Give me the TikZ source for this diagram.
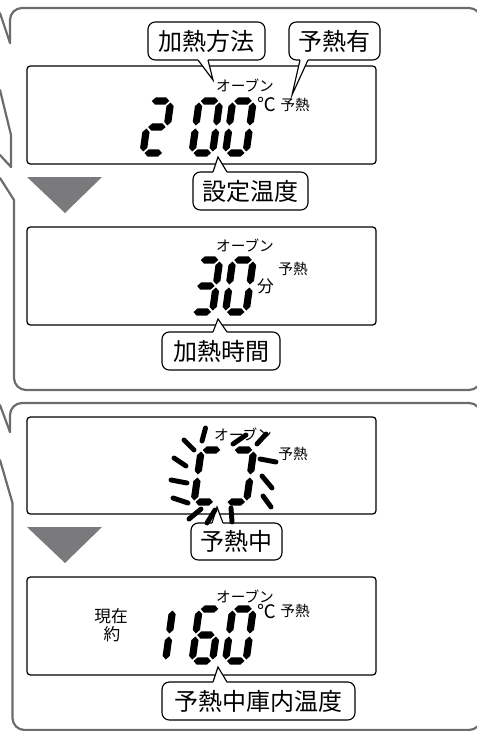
\documentclass[tikz,border=0pt]{standalone}
\usepackage{fontspec}
\newfontfamily\jp{Noto Sans CJK JP}
\usetikzlibrary{calc}
\newdimen\pxu \pxu=0.75pt
\definecolor{framegray}{RGB}{108,108,110}
\definecolor{trigray}{RGB}{122,122,124}
\def\dT{3.6}\def\dW{20.5}\def\dH{52}\def\dg{1.5}
\newcommand\hsg[3]{\fill ({#1},{#3}) -- ({#1+\dT},{#3-\dT}) -- ({#2-\dT},{#3-\dT}) -- ({#2},{#3}) -- ({#2-\dT},{#3+\dT}) -- ({#1+\dT},{#3+\dT}) -- cycle;}
\newcommand\vsg[3]{\fill ({#1},{#2}) -- ({#1+\dT},{#2+\dT}) -- ({#1+\dT},{#3-\dT}) -- ({#1},{#3}) -- ({#1-\dT},{#3-\dT}) -- ({#1-\dT},{#2+\dT}) -- cycle;}
\newcommand\sgA{\hsg{\dg}{\dW-\dg}{-\dH}}
\newcommand\sgB{\vsg{\dW}{-\dH+\dg}{-\dH/2-\dg}}
\newcommand\sgC{\vsg{\dW}{-\dH/2+\dg}{-\dg}}
\newcommand\sgD{\hsg{\dg}{\dW-\dg}{0}}
\newcommand\sgE{\vsg{0}{-\dH/2+\dg}{-\dg}}
\newcommand\sgF{\vsg{0}{-\dH+\dg}{-\dH/2-\dg}}
\newcommand\sgG{\hsg{\dg}{\dW-\dg}{-\dH/2}}
\newcommand\lcddigit[3]{\begin{scope}[shift={(#1,#2)},xslant=0.14]#3\end{scope}}
\newcommand\dzero{\sgA\sgB\sgC\sgD\sgE\sgF}
\tikzset{
  frame/.style={draw=framegray, line width=1.65pt, line cap=round, line join=round},
  lcdbox/.style={draw=black, line width=0.95pt, rounded corners=2.5pt},
  bal/.style={draw=black, fill=white, line width=0.85pt, rounded corners=5.5pt, inner sep=0pt,
    font=\jp\fontsize{18}{18}\selectfont},
  tailline/.style={draw=black, line width=0.85pt, line join=miter},
  lbl/.style={inner sep=0pt, font=\jp\fontsize{11}{11}\selectfont},
  lblm/.style={inner sep=0pt, font=\jp\fontsize{12.5}{12.5}\selectfont},
  lbldeg/.style={inner sep=0pt, font=\jp\fontsize{14}{14}\selectfont},
  ray/.style={line width=3.7pt, line cap=round},
  downtri/.style={fill=trigray},
}
\begin{document}
\begin{tikzpicture}[x=0.75pt,y=-0.75pt]
\useasboundingbox (0,0) rectangle (477,731);
% ---------- frames ----------
\draw[frame] (0,13) -- (10,43);
\draw[frame, rounded corners=9] (10,43) -- (10,8) -- (481,8) -- (481,390) -- (14,390) -- (14,200);
\draw[frame] (14,200) -- (0,178);
\draw[frame] (0,90) -- (11,135) -- (11,167) -- (0,155);
\draw[frame] (0,405) -- (10,432);
\draw[frame, rounded corners=9] (10,432) -- (10,403) -- (481,403) -- (481,730) -- (12.5,730) -- (12.5,503);
\draw[frame] (12.5,503) -- (0,460);
% ---------- triangles ----------
\fill[downtri] (27,177) -- (102,177) -- (65,213) -- cycle;
\fill[downtri] (27,527) -- (102,527) -- (65,563) -- cycle;
% ---------- LCD boxes ----------
\draw[lcdbox] (27,66) rectangle (376,164);
\draw[lcdbox] (27,227) rectangle (376,325);
\draw[lcdbox] (27,417) rectangle (376,514);
\draw[lcdbox] (27,577) rectangle (376,675);
% ---------- box 1 : 2 00 ----------
\lcddigit{143}{153}{\sgA\sgB\sgG\sgE\sgD}
\lcddigit{192}{153}{\dzero}
\lcddigit{225.5}{153}{\dzero}
\node[lbl] (ov1) at (245,85) {オーブン};
\node[lbldeg] (dc1) at (267,105) {℃};
\node[lbl] (yn1) at (295,105) {予熱};
% ---------- box 2 : 30 ----------
\lcddigit{192}{312}{\sgA\sgB\sgG\sgC\sgD}
\lcddigit{225.5}{312}{\dzero}
\node[lbl] (ov2) at (245,245.5) {オーブン};
\node[lblm] (fn2) at (265.5,286) {分};
\node[lbl] (yn2) at (293,268.5) {予熱};
% ---------- box 3 : blinking ----------
\lcddigit{194}{502}{\sgA\sgF\sgE\sgD}
\lcddigit{226}{502}{\sgA\sgB\sgC\sgD}
\node[lbl] (ov3) at (243,434) {オーブン};
\node[lbl] (yn3) at (293,454) {予熱};
% ---------- box 4 : 160 ----------
\lcddigit{145}{661}{\sgB\sgC}
\lcddigit{192}{661}{\sgA\sgF\sgG\sgE\sgD\sgC}
\lcddigit{225.5}{661}{\dzero}
\node[lbl] (ov4) at (245,596.5) {オーブン};
\node[lbldeg] (dc4) at (267,611) {℃};
\node[lbl] (yn4) at (295,611) {予熱};
\node[lblm] (gz4) at (111,616) {現在};
\node[lblm] (yk4) at (112,634.5) {約};
% ---------- balloons ----------
\node[bal, minimum width=117\pxu, minimum height=38\pxu] (b1) at (206.5,41) {加熱方法};
\fill[white] (198,58) -- (198,60) -- (213,80) -- (208,60) -- (208,58) -- cycle;
\draw[tailline] (198,60) -- (213,80) -- (208,60);
\node[bal, minimum width=91\pxu, minimum height=38\pxu] (b2) at (334.5,41) {予熱有};
\fill[white] (300,58) -- (300,60) -- (292,95) -- (308,60) -- (308,58) -- cycle;
\draw[tailline] (300,60) -- (292,95) -- (308,60);
\node[bal, minimum width=115\pxu, minimum height=38\pxu] (b3) at (250.5,191) {設定温度};
\fill[white] (213,174) -- (213,172) -- (218,157) -- (227,172) -- (227,174) -- cycle;
\draw[tailline] (213,172) -- (218,157) -- (227,172);
\node[bal, minimum width=118\pxu, minimum height=38\pxu] (b4) at (221,351) {加熱時間};
\fill[white] (213,334) -- (213,332) -- (218,319) -- (227,332) -- (227,334) -- cycle;
\draw[tailline] (213,332) -- (218,319) -- (227,332);
\node[bal, minimum width=91\pxu, minimum height=37\pxu] (b5) at (236.5,541.5) {予熱中};
\fill[white] (212,525) -- (212,523) -- (217,507) -- (223,523) -- (223,525) -- cycle;
\draw[tailline] (212,523) -- (217,507) -- (223,523);
\node[bal, minimum width=193\pxu, minimum height=38\pxu] (b6) at (258.5,701) {予熱中庫内温度};
\fill[white] (213,684) -- (213,682) -- (218,667) -- (227,682) -- (227,684) -- cycle;
\draw[tailline] (213,682) -- (218,667) -- (227,682);
% ---------- blink rays ----------
\draw[ray] (205.5,428) -- (202,441);
\draw[ray] (233,444) -- (246,435);
\draw[ray] (257,444) -- (266,434);
\draw[ray] (184,440) -- (194,450);
\draw[ray] (174,458) -- (186,466);
\draw[ray] (171,480) -- (187,483);
\draw[ray] (173,498) -- (188,503);
\draw[ray] (189,519) -- (201,509);
\draw[ray] (207,523) -- (215,510);
\draw[ray] (231,508) -- (232,522);
\draw[ray] (260,459) -- (276,462);
\draw[ray] (262,476) -- (272,488);
\draw[ray] (263,496) -- (271,507);
\end{tikzpicture}
\end{document}
